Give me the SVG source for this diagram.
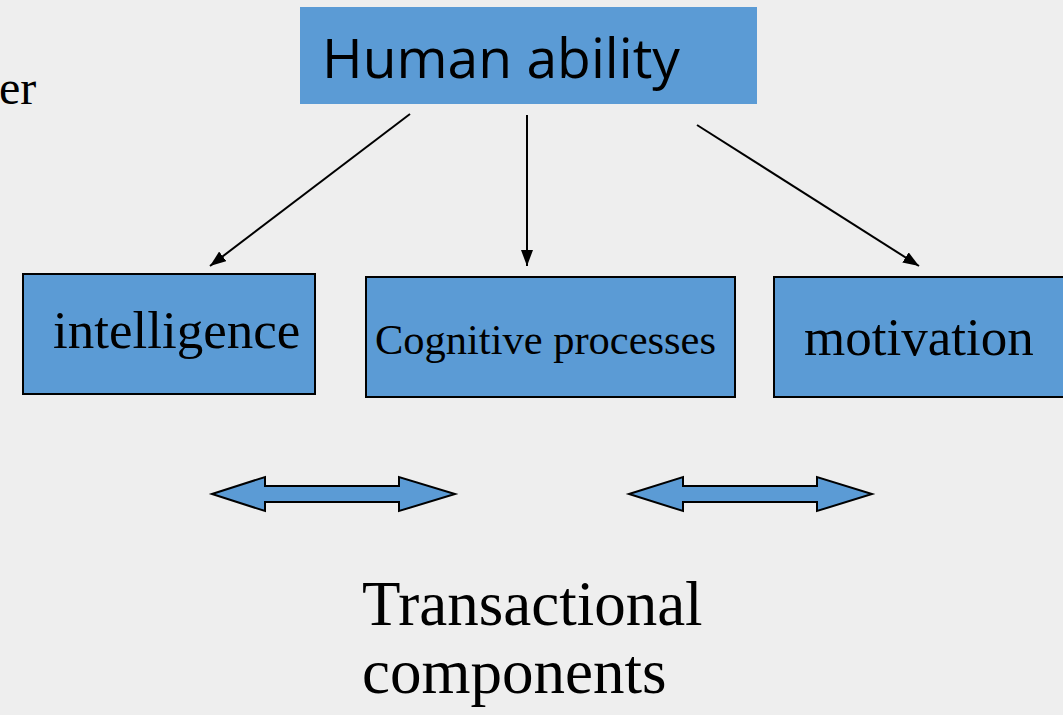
<svg xmlns="http://www.w3.org/2000/svg" width="1063" height="715" viewBox="0 0 1063 715">
  <defs>
    <marker id="head" viewBox="0 0 16 12" refX="16" refY="6" markerWidth="16" markerHeight="12" markerUnits="userSpaceOnUse" orient="auto">
      <path d="M0,0 L16,6 L0,12 z" fill="#000"/>
    </marker>
  </defs>
  <style>
    .box { fill: #5b9bd5; stroke: #000; stroke-width: 2; }
    .serif { font-family: "Liberation Serif", "Times New Roman", serif; fill: #000; }
    .sans { font-family: "Open Sans", "Liberation Sans", sans-serif; fill: #000; }
    .link { stroke: #000; stroke-width: 2; fill: none; marker-end: url(#head); }
    .dbl { fill: #5b9bd5; stroke: #000; stroke-width: 2; stroke-linejoin: miter; }
  </style>

  <rect x="0" y="0" width="1063" height="715" fill="#eeeeee"/>

  <text class="serif" x="-1" y="104" font-size="48">er</text>

  <g id="human-ability">
    <rect x="300" y="7" width="457" height="97" fill="#5b9bd5"/>
    <text class="sans" x="322" y="78" font-size="55" textLength="358" lengthAdjust="spacingAndGlyphs">Human ability</text>
  </g>

  <g id="intelligence">
    <rect class="box" x="23" y="274" width="292" height="120"/>
    <text class="serif" x="53" y="348" font-size="53">intelligence</text>
  </g>

  <g id="cognitive-processes">
    <rect class="box" x="366" y="277" width="369" height="120"/>
    <text class="serif" x="375" y="354" font-size="42" textLength="341" lengthAdjust="spacingAndGlyphs">Cognitive processes</text>
  </g>

  <g id="motivation">
    <rect class="box" x="774" y="277" width="300" height="120"/>
    <text class="serif" x="804" y="355" font-size="53">motivation</text>
  </g>

  <g id="connectors">
    <line class="link" x1="410" y1="114" x2="210" y2="266"/>
    <line class="link" x1="527" y1="115" x2="527" y2="266"/>
    <line class="link" x1="697" y1="125" x2="919" y2="266"/>
  </g>

  <g id="exchange-arrows">
    <path class="dbl" d="M212,494 L265,477 L265,486 L399,486 L399,477 L455,494 L399,511 L399,502 L265,502 L265,511 Z"/>
    <path class="dbl" d="M629,494 L683,477 L683,486 L817,486 L817,477 L872,494 L817,511 L817,502 L683,502 L683,511 Z"/>
  </g>

  <g id="transactional-components">
    <text class="serif" x="362" y="625" font-size="63">Transactional</text>
    <text class="serif" x="362" y="693" font-size="63">components</text>
  </g>
</svg>
